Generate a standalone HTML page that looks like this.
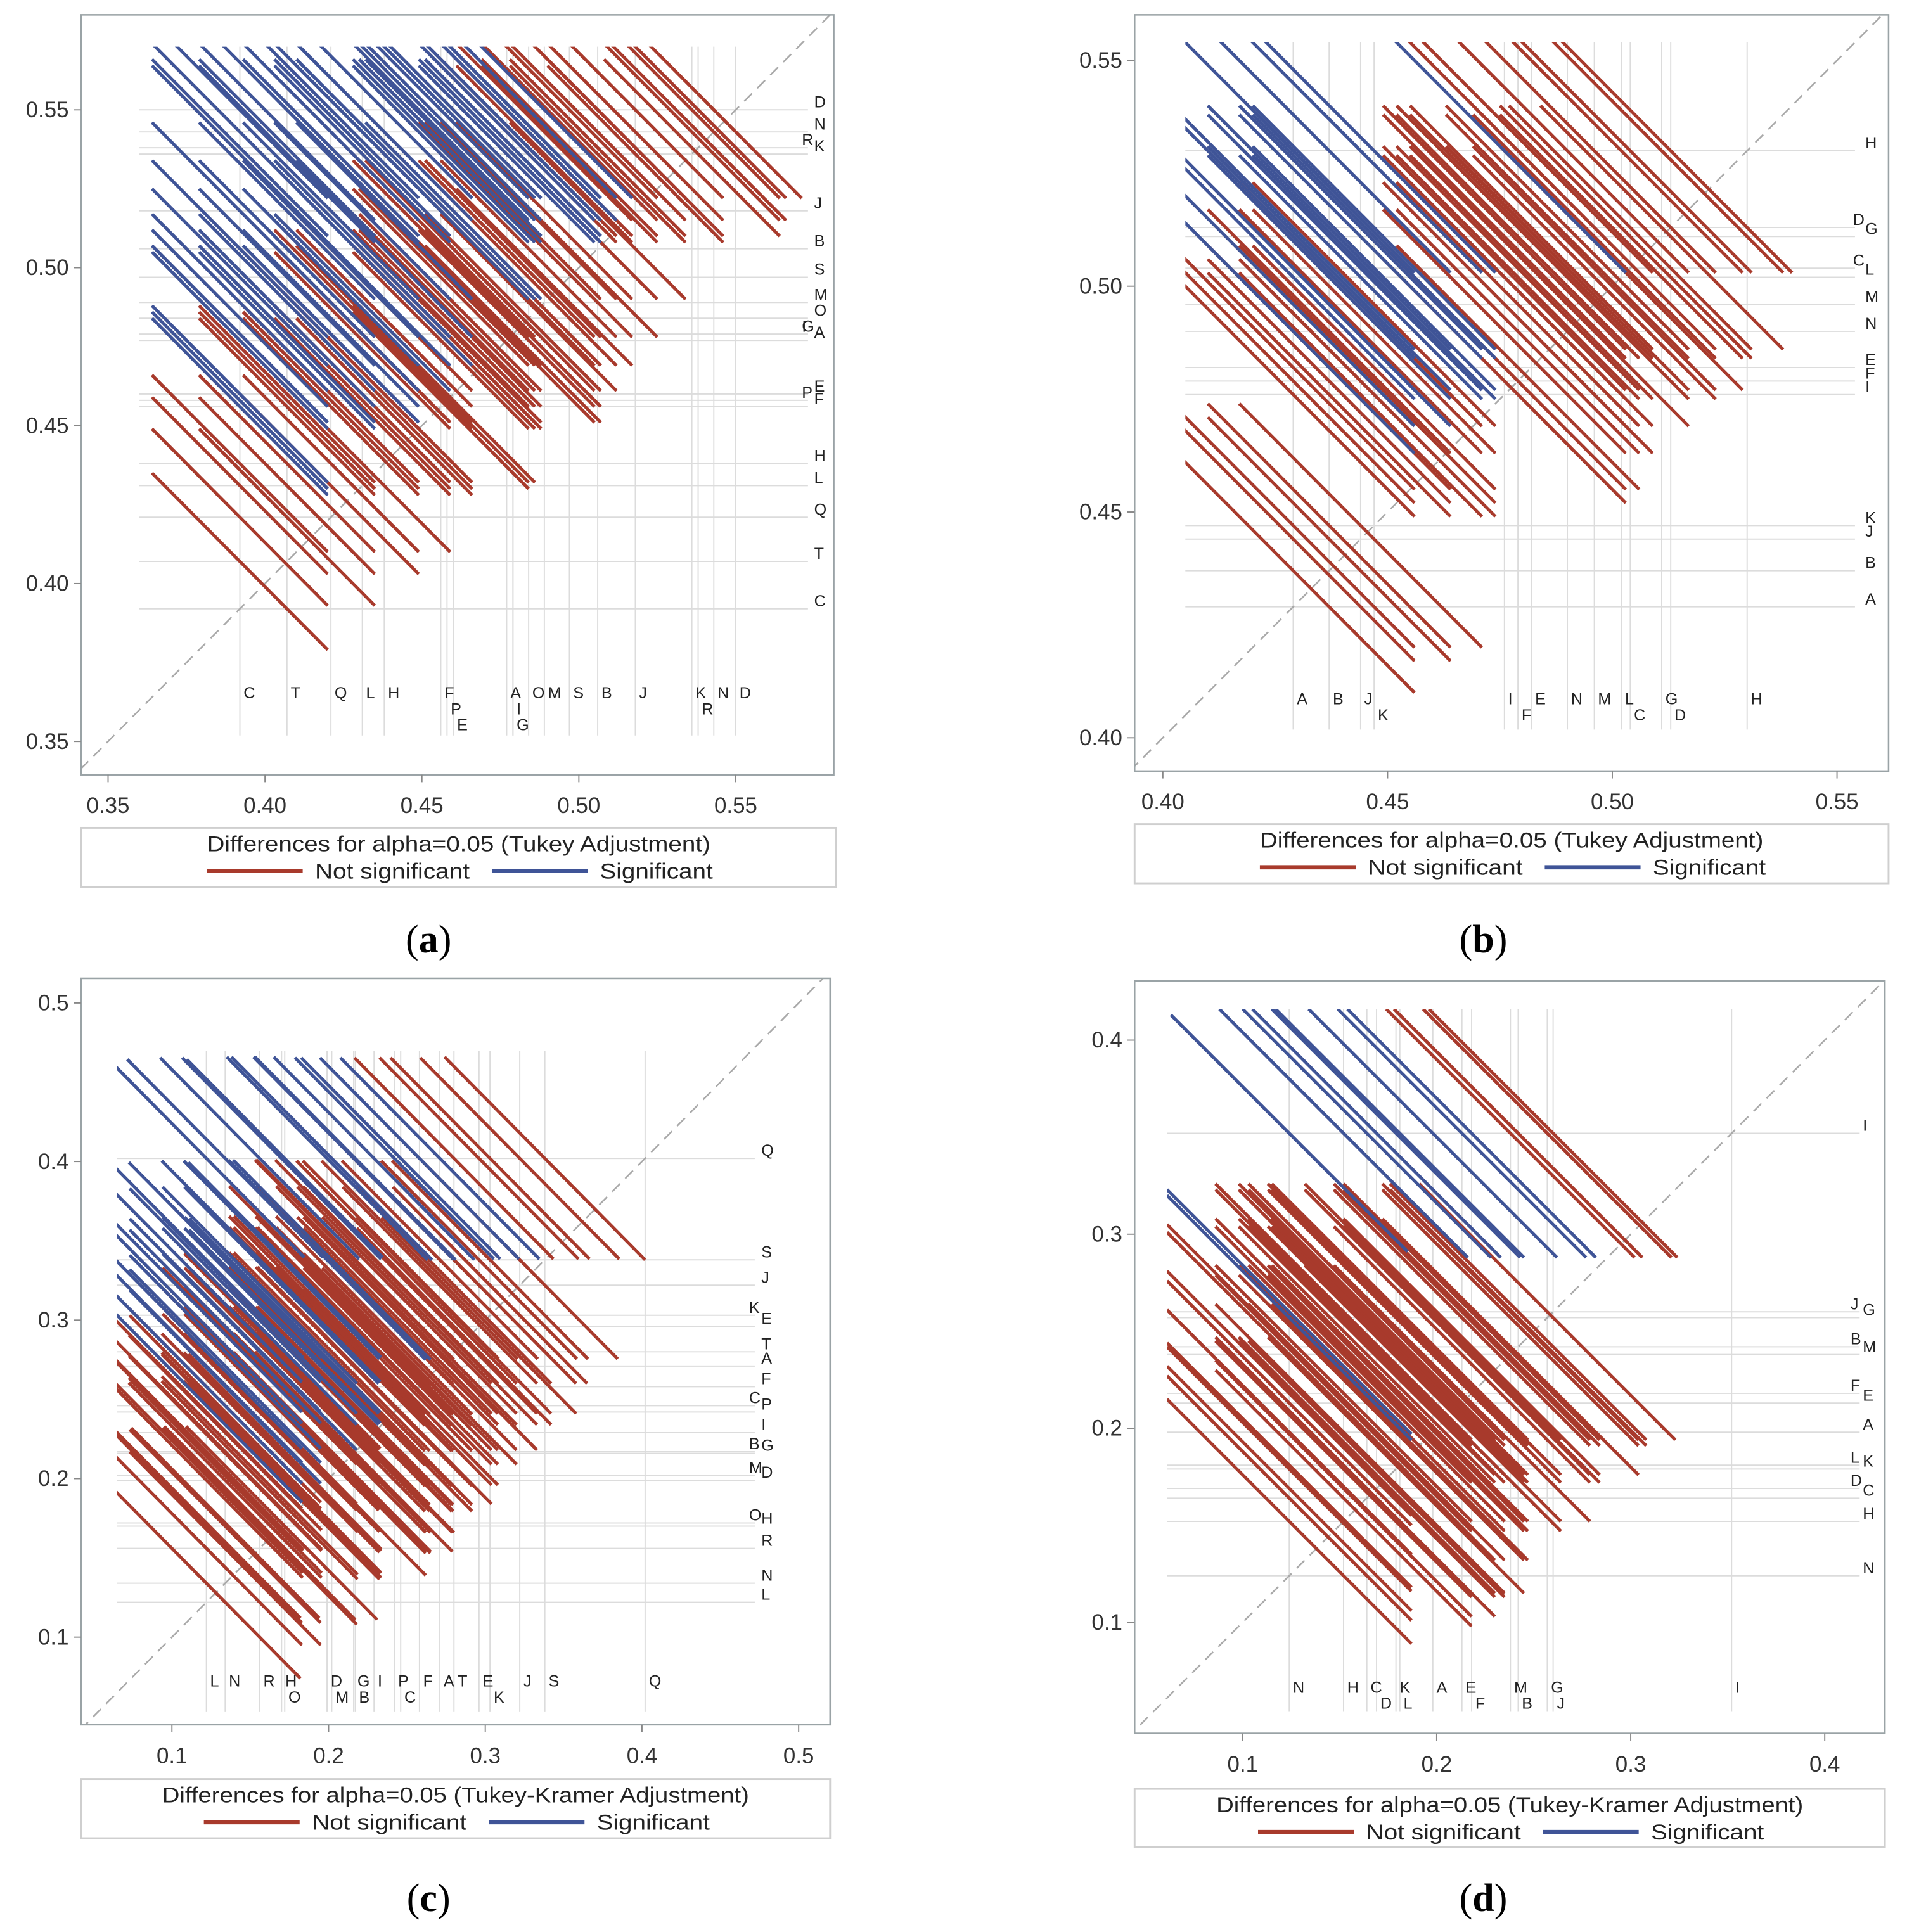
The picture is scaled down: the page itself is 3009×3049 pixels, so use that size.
<!DOCTYPE html>
<html><head><meta charset="utf-8"><style>
html,body{margin:0;padding:0;background:#fff;}
svg{display:block;}
text{font-family:"Liberation Sans",sans-serif;}
</style></head><body>
<svg id="fig" xmlns="http://www.w3.org/2000/svg" width="3009" height="3049" viewBox="0 0 1553 1566" preserveAspectRatio="none">
<rect x="0" y="0" width="1553" height="1566" fill="#fff"/>
</svg>
<script>
// ---- Panel (a) data ----
const aGroups = ['C','T','Q','L','H','F','E','P','I','A','G','O','M','S','B','J','R','N','K','D'];
const aMeans = [0.392,0.407,0.421,0.431,0.438,0.456,0.460,0.458,0.479,0.477,0.479,0.484,0.489,0.497,0.506,0.518,0.538,0.543,0.536,0.550];
const aWidths = [0.028,0.028,0.028,0.028,0.028,0.028,0.028,0.028,0.028,0.028,0.028,0.028,0.028,0.028,0.028,0.028,0.028,0.028,0.028,0.028];
const aXTicks = [0.35,0.40,0.45,0.50,0.55];
const aYTicks = [0.35,0.40,0.45,0.50,0.55];
const aTickLabels = ['0.35','0.40','0.45','0.50','0.55'];
// ---- Panel (b) data ----
const bGroups = ['A','B','J','K','I','F','E','N','M','C','L','G','D','H'];
const bMeans = [0.429,0.437,0.444,0.447,0.476,0.479,0.482,0.490,0.496,0.504,0.502,0.511,0.513,0.530];
const bWidths = [0.027,0.027,0.027,0.027,0.027,0.027,0.027,0.027,0.027,0.027,0.027,0.027,0.027,0.027];
const bXTicks = [0.40,0.45,0.50,0.55];
const bYTicks = [0.40,0.45,0.50,0.55];
const bTickLabels = ['0.40','0.45','0.50','0.55'];
// ---- Panel (c) data ----
const cGroups = ['L','N','R','H','O','D','M','G','B','I','P','C','F','A','T','E','K','J','S','Q'];
const cMeans = [0.122,0.134,0.156,0.170,0.172,0.199,0.202,0.216,0.217,0.229,0.242,0.246,0.258,0.271,0.280,0.296,0.303,0.322,0.338,0.402];
const cWidths = [0.06,0.06,0.062,0.062,0.06,0.063,0.063,0.063,0.063,0.063,0.062,0.062,0.062,0.062,0.062,0.062,0.062,0.062,0.063,0.065];
const cXTicks = [0.1,0.2,0.3,0.4,0.5];
const cYTicks = [0.1,0.2,0.3,0.4,0.5];
const cTickLabels = ['0.1','0.2','0.3','0.4','0.5'];
// ---- Panel (d) data ----
const dGroups = ['N','H','C','D','K','L','A','E','F','M','B','G','J','I'];
const dMeans = [0.124,0.152,0.164,0.169,0.179,0.181,0.198,0.213,0.218,0.238,0.242,0.257,0.260,0.352];
const dWidths = [0.06,0.066,0.066,0.066,0.066,0.066,0.066,0.066,0.066,0.066,0.066,0.066,0.066,0.062];
const dXTicks = [0.1,0.2,0.3,0.4];
const dYTicks = [0.1,0.2,0.3,0.4];
const dTickLabels = ['0.1','0.2','0.3','0.4'];

const RED = '#a83a2c', BLUE = '#3f5497';
const NS = 'http://www.w3.org/2000/svg';
const svg = document.getElementById('fig');
function mk(tag, attrs, parent){
  const e = document.createElementNS(NS, tag);
  for (const k in attrs) e.setAttribute(k, attrs[k]);
  (parent||svg).appendChild(e);
  return e;
}

const panels = [
  {id:'a', groups:aGroups, means:aMeans, widths:aWidths, xt:aXTicks, yt:aYTicks, tl:aTickLabels,
   frame:[66,12,679,628], x0:0.35, xp:88, xs:2556, y0:0.35, yp:601, ys:2560,
   clip:[0.36,0.573,0.355,0.57], rightX:663, botY:566, legend:[66,671,681,719],
   title:'Differences for alpha=0.05 (Tukey Adjustment)', cap:'a', capX:349},
  {id:'b', groups:bGroups, means:bMeans, widths:bWidths, xt:bXTicks, yt:bYTicks, tl:bTickLabels,
   frame:[924,12,1538,625], x0:0.40, xp:947, xs:3660, y0:0.40, yp:598, ys:3660,
   clip:[0.405,0.554,0.404,0.554], rightX:1519, botY:571, legend:[924,668,1538,716],
   title:'Differences for alpha=0.05 (Tukey Adjustment)', cap:'b', capX:1208},
  {id:'c', groups:cGroups, means:cMeans, widths:cWidths, xt:cXTicks, yt:cYTicks, tl:cTickLabels,
   frame:[66,793,676,1398], x0:0.1, xp:140, xs:1276, y0:0.1, yp:1327, ys:1285,
   clip:[0.065,0.472,0.059,0.47], rightX:620, botY:1367, legend:[66,1442,676,1490],
   title:'Differences for alpha=0.05 (Tukey-Kramer Adjustment)', cap:'c', capX:349},
  {id:'d', groups:dGroups, means:dMeans, widths:dWidths, xt:dXTicks, yt:dYTicks, tl:dTickLabels,
   frame:[924,795,1535,1405], x0:0.1, xp:1012, xs:1580, y0:0.1, yp:1315, ys:1573,
   clip:[0.061,0.418,0.059,0.416], rightX:1517, botY:1372, legend:[924,1450,1535,1497],
   title:'Differences for alpha=0.05 (Tukey-Kramer Adjustment)', cap:'d', capX:1208}
];

panels.forEach(p => {
  const X = v => p.xp + (v - p.x0) * p.xs;
  const Y = v => p.yp - (v - p.y0) * p.ys;
  const g = mk('g', {});
  
  
  const [fx1, fy1, fx2, fy2] = p.frame;
  const [cx1, cx2, cy1, cy2] = p.clip;

  const defs = mk('defs', {}, g);
  const cp = mk('clipPath', {id:'clip-' + p.id}, defs);
  mk('rect', {x:X(cx1), y:Y(cy2), width:X(cx2)-X(cx1), height:Y(cy1)-Y(cy2)}, cp);
  const cf = mk('clipPath', {id:'frame-' + p.id}, defs);
  mk('rect', {x:fx1, y:fy1, width:fx2-fx1, height:fy2-fy1}, cf);

  const grid = mk('g', {stroke:'#dcdcdc', 'stroke-width':1}, g);
  
  
  p.means.forEach(m => {
    mk('line', {x1:X(m), x2:X(m), y1:Y(cy2), y2:Y(cy1)+8}, grid);
    mk('line', {x1:X(cx1), x2:X(cx2), y1:Y(m), y2:Y(m)}, grid);
  });

  const lo = Math.min(p.x0 - 0.1, p.y0 - 0.1), hi = lo + 1;
  const diag = mk('line', {x1:X(lo), y1:Y(lo), x2:X(hi), y2:Y(hi), stroke:'#a9a9a9', 'stroke-width':1.3,
    'stroke-dasharray':'9,6', 'clip-path':'url(#frame-' + p.id + ')'}, g);
  
  

  const segR = mk('g', {'clip-path':'url(#clip-' + p.id + ')', 'stroke-width':2.6, 'stroke-linecap':'butt'}, g);
  const segB = mk('g', {'clip-path':'url(#clip-' + p.id + ')', 'stroke-width':2.6, 'stroke-linecap':'butt'}, g);
  
  
  
  
  const n = p.means.length;
  for (let i = 0; i < n; i++) for (let j = i + 1; j < n; j++) {
    const a = Math.min(p.means[i], p.means[j]), b = Math.max(p.means[i], p.means[j]);
    const e = (p.widths[i] + p.widths[j]) / 2;
    const sig = (b - a) > 2 * e;
    const ln = mk('line', {x1:X(a - e), y1:Y(b + e), x2:X(a + e), y2:Y(b - e), stroke: sig ? BLUE : RED}, sig ? segB : segR);
    
    
  }

  const fr = mk('rect', {x:fx1, y:fy1, width:fx2-fx1, height:fy2-fy1, fill:'none', stroke:'#9aa3a6', 'stroke-width':1.3}, g);
  
  

  p.xt.forEach((v, k) => {
    mk('line', {x1:X(v), x2:X(v), y1:fy2, y2:fy2+6, stroke:'#888', 'stroke-width':1}, g);
    const t = mk('text', {x:X(v), y:fy2+31, 'text-anchor':'middle', 'font-size':18, fill:'#333'}, g);
    t.textContent = p.tl[k];
    
    
  });
  p.yt.forEach((v, k) => {
    mk('line', {x1:fx1-6, x2:fx1, y1:Y(v), y2:Y(v), stroke:'#888', 'stroke-width':1}, g);
    const t = mk('text', {x:fx1-10, y:Y(v)+6, 'text-anchor':'end', 'font-size':18, fill:'#333'}, g);
    t.textContent = p.tl[k];
    
    
  });

  const order = p.means.map((m, k) => k).sort((u, v) => p.means[u] - p.means[v]);
  let lastX = [-999, -999, -999];
  order.forEach(k => {
    const px = X(p.means[k]) + 3;
    let row = 0;
    while (row < 2 && px - lastX[row] < 11) row++;
    lastX[row] = px;
    const t = mk('text', {x:px, y:p.botY + row * 13, 'font-size':13, fill:'#222'}, g);
    t.textContent = p.groups[k];
    
    
  });
  let lastY = [9999, 9999];
  order.forEach(k => {
    const py = Y(p.means[k]) - 2;
    let col = 0;
    if (lastY[0] - py < 10) col = 1;
    lastY[col] = py;
    const t = mk('text', {x:p.rightX + (col ? -10 : 0), y:py, 'font-size':13, fill:'#222'}, g);
    t.textContent = p.groups[k];
    
    
  });

  const [lx1, ly1, lx2, ly2] = p.legend;
  const lg = mk('g', {}, g);
  
  
  mk('rect', {x:lx1, y:ly1, width:lx2-lx1, height:ly2-ly1, fill:'#fff', stroke:'#cfcfcf', 'stroke-width':1.5}, lg);
  const mid = (lx1 + lx2) / 2;
  const tt = mk('text', {x:mid, y:ly1+19, 'text-anchor':'middle', 'font-size':17.5, fill:'#222', textLength:(p.id==='a'||p.id==='b')?410:478, lengthAdjust:'spacingAndGlyphs'}, lg);
  tt.textContent = p.title;
  
  
  const ey = ly1 + 35;
  const r0 = mid - 205;
  mk('line', {x1:r0, x2:r0+78, y1:ey, y2:ey, stroke:RED, 'stroke-width':3.5}, lg);
  const t1 = mk('text', {x:r0+88, y:ey+6, 'font-size':17.5, fill:'#222', textLength:126, lengthAdjust:'spacingAndGlyphs'}, lg);
  t1.textContent = 'Not significant';
  
  
  mk('line', {x1:r0+232, x2:r0+310, y1:ey, y2:ey, stroke:BLUE, 'stroke-width':3.5}, lg);
  const t2 = mk('text', {x:r0+320, y:ey+6, 'font-size':17.5, fill:'#222', textLength:92, lengthAdjust:'spacingAndGlyphs'}, lg);
  t2.textContent = 'Significant';
  
  

  const cap = mk('text', {x:p.capX, y:p.id==='a'||p.id==='b' ? 772 : 1549, 'text-anchor':'middle', 'font-size':32, fill:'#000'}, g);
  cap.setAttribute('style', 'font-family:"Liberation Serif",serif');
  cap.innerHTML = '(<tspan font-weight="bold">' + p.cap + '</tspan>)';
  
  
});
</script>
</body></html>
